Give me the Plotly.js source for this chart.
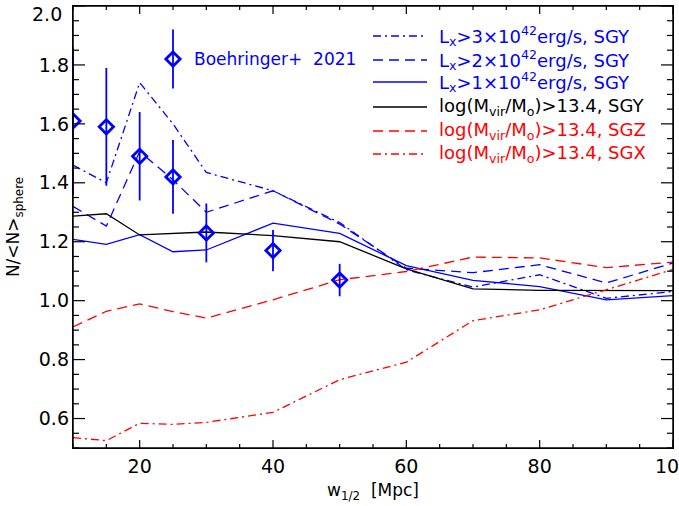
<!DOCTYPE html>
<html>
<head>
<meta charset="utf-8">
<script src="https://cdn.plot.ly/plotly-3.0.1.min.js"></script>
<style>
html,body{margin:0;padding:0;background:#fff;}
#wrap{position:relative;width:679px;height:506px;}
#chart{width:679px;height:506px;}
#frame{position:absolute;left:72px;top:5px;width:600px;height:442px;border:1.5px solid #000;pointer-events:none;box-sizing:content-box;}
</style>
</head>
<body>
<div id="wrap"><div id="chart"></div><div id="frame"></div></div>
<script>
// ---- data ----
const w = [10, 15, 20, 25, 30, 40, 50, 60, 70, 80, 90, 100];
const lx3SGY = [1.46, 1.40, 1.74, 1.60, 1.435, 1.373, 1.265, 1.105, 1.046, 1.088, 1.008, 1.031];
const lx2SGY = [1.32, 1.253, 1.506, 1.41, 1.30, 1.373, 1.26, 1.11, 1.095, 1.122, 1.06, 1.128];
const lx1SGY = [1.208, 1.191, 1.224, 1.166, 1.172, 1.263, 1.228, 1.119, 1.069, 1.048, 1.003, 1.017];
const mSGY = [1.287, 1.295, 1.223, 1.229, 1.233, 1.221, 1.20, 1.108, 1.04, 1.035, 1.034, 1.034];
const mSGZ = [0.911, 0.964, 0.989, 0.963, 0.941, 1.003, 1.071, 1.099, 1.148, 1.145, 1.112, 1.131];
const mSGX = [0.535, 0.525, 0.584, 0.58, 0.587, 0.621, 0.732, 0.791, 0.932, 0.969, 1.037, 1.106];

const obsW = [10, 15, 20, 25, 30, 40, 50];
const obsN = [1.61, 1.59, 1.49, 1.42, 1.23, 1.17, 1.07];
const obsErr = [0.25, 0.20, 0.15, 0.125, 0.10, 0.07, 0.055];

const keyW = [25];
const keyN = [1.82];
const keyErr = [0.10];

const obsLabel = 'Boehringer+  2021';
const seriesLabels = [
  'L<sub>x</sub>&gt;3×10<sup>42</sup>erg/s, SGY',
  'L<sub>x</sub>&gt;2×10<sup>42</sup>erg/s, SGY',
  'L<sub>x</sub>&gt;1×10<sup>42</sup>erg/s, SGY',
  'log(M<sub>vir</sub>/M<sub>o</sub>)&gt;13.4, SGY',
  'log(M<sub>vir</sub>/M<sub>o</sub>)&gt;13.4, SGZ',
  'log(M<sub>vir</sub>/M<sub>o</sub>)&gt;13.4, SGX'
];
const xTickVals = [20, 40, 60, 80, 100];
const yTickVals = [0.6, 0.8, 1.0, 1.2, 1.4, 1.6, 1.8];
const yTopLabel = '2.0';

// ---- styles ----
const BLUE = '#0000ff', RED = '#ff0000', BLACK = '#000000';
const DASHDOT = '8px,4px,2px,4px';
const DASH = '10px,6px';
const styles = [
  {color: BLUE, dash: DASHDOT},
  {color: BLUE, dash: DASH},
  {color: BLUE, dash: 'solid'},
  {color: BLACK, dash: 'solid'},
  {color: RED, dash: DASH},
  {color: RED, dash: DASHDOT}
];
const seriesData = [lx3SGY, lx2SGY, lx1SGY, mSGY, mSGZ, mSGX];

const traces = seriesData.map((ys, i) => ({
  x: w, y: ys, type: 'scatter', mode: 'lines',
  line: {color: styles[i].color, dash: styles[i].dash, width: 1.3},
  showlegend: false, hoverinfo: 'skip'
}));

const markerStyle = {symbol: 'diamond-open', size: 11, color: BLUE, line: {color: BLUE, width: 2.8}};
traces.push({
  x: obsW, y: obsN, type: 'scatter', mode: 'markers',
  marker: markerStyle,
  error_y: {type: 'data', array: obsErr, visible: true, color: BLUE, thickness: 1.8, width: 0},
  showlegend: false
});
traces.push({
  x: keyW, y: keyN, type: 'scatter', mode: 'markers',
  marker: markerStyle,
  error_y: {type: 'data', array: keyErr, visible: true, color: BLUE, thickness: 1.8, width: 0},
  showlegend: false
});

// ---- geometry helpers ----
const FAM = 'DejaVu Sans, Verdana, sans-serif';
const L = 73, R = 673, T = 6, B = 448;
const PW = R - L, PH = B - T;
const px2paperX = p => (p - L) / PW;
const px2paperY = p => (B - p) / PH;
const XR = [10, 100], YR = [0.5, 2.0];

const shapes = [];
const annotations = [];

// manual legend
const rowY = [36, 60, 82, 107, 131, 154];
rowY.forEach((py, i) => {
  shapes.push({type: 'line', xref: 'paper', yref: 'paper',
    x0: px2paperX(373), x1: px2paperX(427), y0: px2paperY(py), y1: px2paperY(py),
    line: {color: styles[i].color, dash: styles[i].dash, width: 1.3}});
  annotations.push({xref: 'paper', yref: 'paper', x: px2paperX(437), y: px2paperY(py),
    xanchor: 'left', yanchor: 'middle', showarrow: false, text: seriesLabels[i],
    font: {family: FAM, size: 18, color: styles[i].color}});
});
annotations.push({xref: 'x', yref: 'y', x: keyW[0], y: keyN[0], xshift: 19,
  xanchor: 'left', yanchor: 'middle', showarrow: false, text: obsLabel,
  font: {family: FAM, size: 17, color: BLUE}});

const FONT = {family: FAM, size: 19, color: '#000'};
annotations.push({xref: 'paper', yref: 'y', x: 0, y: YR[1], xanchor: 'right', yanchor: 'top',
  xshift: -9, yshift: 5, showarrow: false, text: yTopLabel, font: FONT});

const layout = {
  width: 679, height: 506,
  margin: {l: 73, r: 6, t: 6, b: 58, pad: 0},
  paper_bgcolor: '#fff', plot_bgcolor: '#fff',
  font: FONT,
  showlegend: false,
  xaxis: {
    range: XR, tickmode: 'array', tickvals: xTickVals, ticktext: xTickVals.map(String),
    ticks: '', showline: false, showgrid: false, zeroline: false,
    tickfont: FONT, ticklabeloverflow: 'allow', ticklabelstandoff: 5,
    title: {text: 'w<sub>1/2</sub>  [Mpc]', font: {family: FAM, size: 17, color: '#000'}, standoff: 8}
  },
  yaxis: {
    range: YR, tickmode: 'array', tickvals: yTickVals, ticktext: yTickVals.map(v => v.toFixed(1)),
    ticks: '', showline: false, showgrid: false, zeroline: false,
    tickfont: FONT, ticklabeloverflow: 'allow', ticklabelstandoff: 3,
    title: {text: 'N/&lt;N&gt;<sub>sphere</sub>', font: {family: FAM, size: 17, color: '#000'}, standoff: 14}
  },
  shapes: shapes,
  annotations: annotations
};

// IDL-style inward ticks, placed with Plotly's own axis scales
function drawTicks(gd) {
  const fl = gd._fullLayout, xa = fl.xaxis, ya = fl.yaxis;
  const NS = 'http://www.w3.org/2000/svg';
  const svg = document.createElementNS(NS, 'svg');
  svg.setAttribute('width', 679); svg.setAttribute('height', 506);
  svg.style.position = 'absolute'; svg.style.left = '0px'; svg.style.top = '0px';
  svg.style.pointerEvents = 'none';
  const x0 = xa._offset, x1 = xa._offset + xa._length;
  const y0 = ya._offset, y1 = ya._offset + ya._length;
  const line = (ax, ay, bx, by, wd) => {
    const l = document.createElementNS(NS, 'line');
    l.setAttribute('x1', ax); l.setAttribute('y1', ay);
    l.setAttribute('x2', bx); l.setAttribute('y2', by);
    l.setAttribute('stroke', '#000'); l.setAttribute('stroke-width', wd);
    svg.appendChild(l);
  };
  line(x0, y0, x1, y0, 1.5); line(x0, y1, x1, y1, 1.5);
  line(x0, y0, x0, y1, 1.5); line(x1, y0, x1, y1, 1.5);
  for (let k = 0; XR[0] + k * 5 <= XR[1] + 1e-9; k++) {
    const v = XR[0] + k * 5;
    const len = Math.abs(v % 20) < 1e-9 ? 8 : 4;
    const px = xa._offset + xa.l2p(v);
    line(px, y1, px, y1 - len, 1.2);
    line(px, y0, px, y0 + len, 1.2);
  }
  for (let k = 0; k <= 30; k++) {
    const v = YR[0] + k * 0.05;
    const len = Math.abs(Math.round(v * 1000) % 200) < 1e-6 ? 12 : 6;
    const py = ya._offset + ya.l2p(v);
    line(x0, py, x0 + len, py, 1.2);
    line(x1, py, x1 - len, py, 1.2);
  }
  document.getElementById('wrap').appendChild(svg);
}

Plotly.newPlot('chart', traces, layout, {displayModeBar: false}).then(drawTicks);
</script>
</body>
</html>
